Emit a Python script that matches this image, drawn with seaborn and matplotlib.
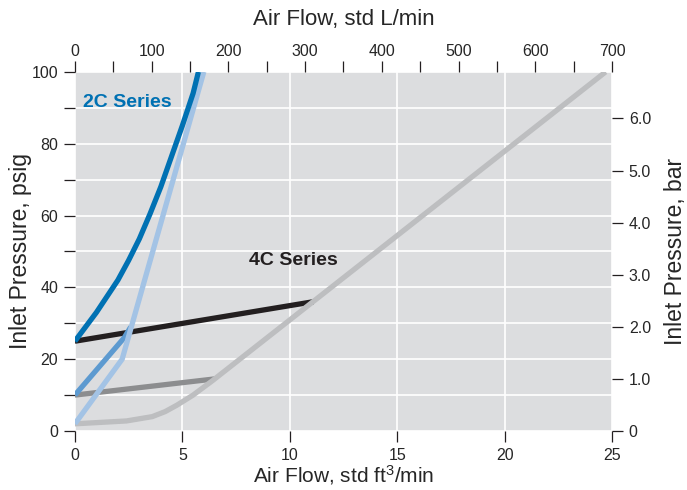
import numpy as np
import pandas as pd
import matplotlib
matplotlib.use("Agg")
import matplotlib.pyplot as plt
import seaborn as sns

# Flow in std ft3/min, pressure in psig
dark_blue_x = [0, 0.5, 1.0, 1.5, 2.0, 2.5, 3.0, 3.5, 4.0, 4.5, 5.0, 5.5, 5.75]
dark_blue_y = [25, 29, 33, 37.5, 42, 47.5, 53.5, 60.5, 68, 76.5, 85, 94, 100]
light_blue_x = [0, 2.2, 6.0]
light_blue_y = [2, 20, 100]
mid_blue_x = [0, 2.3, 2.6]
mid_blue_y = [10, 26, 29]
black_x = [0, 11.1]
black_y = [25, 36]
dark_gray_x = [0, 6.5]
dark_gray_y = [10, 14.5]
light_gray_x = [0, 2.4, 3.6, 4.2, 4.75, 5.5, 6.4, 24.7]
light_gray_y = [2, 2.8, 4.0, 5.4, 7.2, 10.0, 14.0, 100]

series = [
    ("dark gray", dark_gray_x, dark_gray_y, "#8c8d8f"),
    ("black", black_x, black_y, "#231f20"),
    ("light gray", light_gray_x, light_gray_y, "#bdbec0"),
    ("mid blue", mid_blue_x, mid_blue_y, "#5d9ad0"),
    ("light blue", light_blue_x, light_blue_y, "#a3c3e5"),
    ("dark blue", dark_blue_x, dark_blue_y, "#0071b3"),
]

sns.set_style("ticks", {"axes.facecolor": "#dcdddf"})
plt.rcParams["font.family"] = ["Liberation Sans", "DejaVu Sans"]
plt.rcParams["mathtext.default"] = "regular"

fig = plt.figure(figsize=(6.87, 4.90), dpi=100)
ax = fig.add_axes([0.109, 0.1204, 0.782, 0.733])

for name, xs, ys, col in series:
    df = pd.DataFrame({"flow": xs, "psig": ys})
    sns.lineplot(data=df, x="flow", y="psig", sort=False, color=col,
                 linewidth=3.8, ax=ax, solid_capstyle="butt")

ax.set_xlim(0, 25)
ax.set_ylim(0, 100)
ax.set_xticks([0, 5, 10, 15, 20, 25])
ax.set_yticks(np.arange(0, 101, 10))
ax.set_yticklabels([str(v) if v % 20 == 0 else "" for v in range(0, 101, 10)])
ax.grid(True, color="white", linewidth=1.2)
ax.set_axisbelow(True)
for s in ax.spines.values():
    s.set_visible(False)
tick_kw = dict(length=8, width=0.9, color="#231f20", labelsize=11.5, pad=4)
ax.tick_params(**tick_kw)
ax.set_xlabel("Air Flow, std ft$^{3}$/min", fontsize=15, labelpad=0)
ax.set_ylabel("Inlet Pressure, psig", fontsize=16.5, labelpad=0)

# top axis: L/min
top = ax.twiny()
top.set_xlim(0, 700)
top.set_xticks(np.arange(0, 701, 50))
top.set_xticklabels([str(v) if v % 100 == 0 else "" for v in range(0, 701, 50)])
top.tick_params(**tick_kw)
top.tick_params(axis="x", pad=1)
top.set_xlabel("Air Flow, std L/min", fontsize=16, labelpad=14)
top.grid(False)
for s in top.spines.values():
    s.set_visible(False)

# right axis: bar
right = ax.twinx()
right.set_ylim(0, 100 / 14.5038)
right.set_yticks([0, 1, 2, 3, 4, 5, 6])
right.set_yticklabels(["0", "1.0", "2.0", "3.0", "4.0", "5.0", "6.0"])
right.tick_params(**tick_kw)
right.set_ylabel("Inlet Pressure, bar", fontsize=16.5, labelpad=9)
right.grid(False)
for s in right.spines.values():
    s.set_visible(False)

ax.text(0.4, 91.5, "2C Series", color="#0071b3", fontsize=14, fontweight="bold",
        va="center", ha="left")
ax.text(8.1, 47.5, "4C Series", color="#231f20", fontsize=14, fontweight="bold",
        va="center", ha="left")

fig.savefig("out.png", dpi=100)
